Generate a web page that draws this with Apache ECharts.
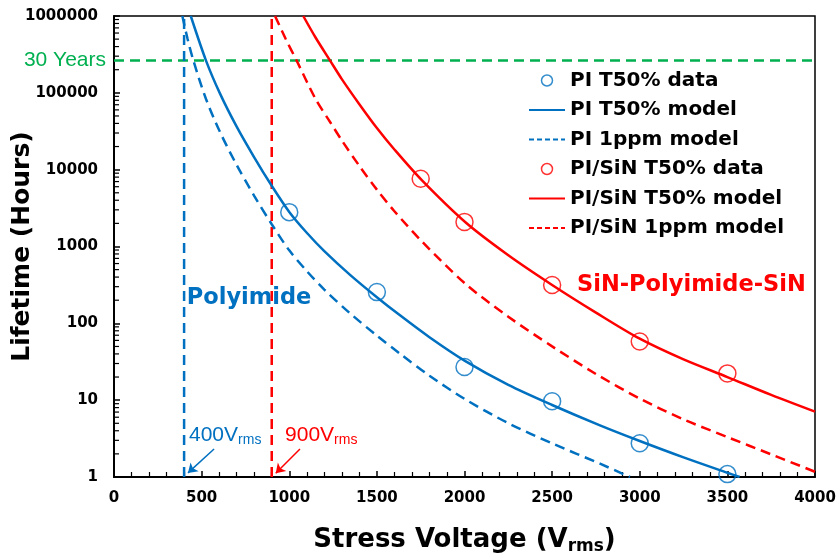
<!DOCTYPE html>
<html><head><meta charset="utf-8">
<script src="https://cdn.jsdelivr.net/npm/echarts@6/dist/echarts.min.js"></script>
<style>html,body{margin:0;padding:0;background:#fff}#c{width:840px;height:554px}</style>
</head><body><div id="c"></div>
<script>
// ---- data ----
const piDataV = [1000, 1500, 2000, 2500, 3000, 3500];
const piDataH = [2800, 255, 27, 9.7, 2.75, 1.09];
const sinDataV = [1750, 2000, 2500, 3000, 3500];
const sinDataH = [7600, 2090, 315, 58, 22.3];

const piT50V = [438, 525, 605, 700, 800, 900, 1000, 1100, 1200, 1347, 1500, 1632, 1800, 2000, 2250, 2500, 2773, 3000, 3250, 3500, 3570];
const piT50H = [1000000, 263000, 97700, 36300, 14500, 6170, 2820, 1510, 871, 428, 219, 127, 65.9, 32.7, 15.8, 8.65, 4.70, 2.94, 1.80, 1.135, 1];

const pi1ppmV = [390, 420, 453, 525, 605, 700, 800, 900, 1000, 1100, 1200, 1347, 1500, 1632, 1800, 2000, 2250, 2500, 2773, 2944];
const pi1ppmH = [1000000, 501000, 263000, 83200, 30900, 11500, 4570, 1950, 891, 479, 275, 135, 69.2, 40.3, 20.8, 10.4, 5.01, 2.74, 1.49, 1];

const sinT50V = [1080, 1150, 1233, 1300, 1400, 1500, 1600, 1759, 2007, 2250, 2500, 2750, 3000, 3250, 3500, 3750, 4000];
const sinT50H = [1000000, 525000, 263000, 151000, 71100, 34800, 18300, 7190, 2050, 769, 316, 138, 63.1, 33.9, 20, 11.7, 7.08];

const sin1ppmV = [919, 980, 1042, 1150, 1233, 1300, 1400, 1500, 1600, 1759, 2007, 2250, 2500, 2750, 3000, 3250, 3500, 3750, 4000];
const sin1ppmH = [1000000, 501000, 263000, 83200, 41700, 24000, 11200, 5500, 2880, 1150, 324, 122, 50.1, 21.9, 10.5, 5.62, 3.31, 1.97, 1.17];

const thirtyYearsH = 262800;
const piLimitV = 400;
const sinLimitV = 900;
const xRange = [0, 4000];
const yRange = [1, 1000000];
const yMinorMantissa = [2, 3, 4, 5, 6, 7, 8, 9];
const yDecades = [1, 10, 100, 1000, 10000, 100000];

// ---- styling ----
const BLUE = '#0070c0', RED = '#ff0000', GREEN = '#00b050';
const BOLD = 'DejaVu Sans';
const zip = (xs, ys) => xs.map((x, i) => [x, ys[i]]);
const minorTicks = [];
yDecades.forEach(d => yMinorMantissa.forEach(m => minorTicks.push([0, d * m])));
const noSym = { color: 'rgba(0,0,0,0)', borderWidth: 0, opacity: 0 };

const chart = echarts.init(document.getElementById('c'));
const option = {
  animation: false,
  backgroundColor: '#fff',
  grid: { left: 114, right: 25, top: 16, bottom: 77, show: true, borderColor: '#000', borderWidth: 1.5, containLabel: false, outerBoundsMode: 'none' },
  legend: {
    orient: 'vertical', left: 528, top: 70.5, padding: 0, itemWidth: 36, itemHeight: 11, itemGap: 9.5,
    textStyle: { fontFamily: BOLD, fontWeight: 'bold', fontSize: 20, lineHeight: 19, color: '#000' },
    data: [
      { name: 'PI T50% data', icon: 'circle', itemStyle: { color: 'rgba(0,0,0,0)', borderColor: BLUE, borderWidth: 1.5 } },
      { name: 'PI T50% model', itemStyle: noSym },
      { name: 'PI 1ppm model', itemStyle: noSym, lineStyle: { type: [5, 3] } },
      { name: 'PI/SiN T50% data', icon: 'circle', itemStyle: { color: 'rgba(0,0,0,0)', borderColor: RED, borderWidth: 1.5 } },
      { name: 'PI/SiN T50% model', itemStyle: noSym },
      { name: 'PI/SiN 1ppm model', itemStyle: noSym, lineStyle: { type: [5, 3] } }
    ]
  },
  xAxis: {
    type: 'value', min: xRange[0], max: xRange[1], interval: 500,
    axisLine: { onZero: false, lineStyle: { color: '#000', width: 2 } },
    axisTick: { inside: true, length: 6, lineStyle: { color: '#000', width: 1.5 } },
    minorTick: { show: true, splitNumber: 5, length: 5, lineStyle: { color: '#000', width: 1.2 } },
    splitLine: { show: false },
    axisLabel: { margin: 14, fontFamily: BOLD, fontWeight: 'bold', fontSize: 15, color: '#000', formatter: v => String(Math.round(v)) },
    name: '{a|Stress Voltage (V}{b|rms}{a|)}', nameLocation: 'middle', nameGap: 48, nameMoveOverlap: false,
    nameTextStyle: {
      rich: {
        a: { fontFamily: BOLD, fontWeight: 'bold', fontSize: 26, lineHeight: 30, color: '#000' },
        b: { fontFamily: BOLD, fontWeight: 'bold', fontSize: 17, lineHeight: 12, verticalAlign: 'bottom', color: '#000' }
      }
    }
  },
  yAxis: {
    type: 'log', logBase: 10, min: yRange[0], max: yRange[1],
    axisLine: { onZero: false, lineStyle: { color: '#000', width: 2 } },
    axisTick: { inside: true, length: 6, lineStyle: { color: '#000', width: 1.5 } },
    splitLine: { show: false },
    axisLabel: { margin: 16, fontFamily: BOLD, fontWeight: 'bold', fontSize: 15, color: '#000', formatter: v => String(Math.round(v)) },
    name: 'Lifetime (Hours)', nameLocation: 'middle', nameGap: 79, nameMoveOverlap: false,
    nameTextStyle: { fontFamily: BOLD, fontWeight: 'bold', fontSize: 25, color: '#000' }
  },
  series: [
    { name: 'minorY', type: 'custom', silent: true, clip: false, data: minorTicks, encode: { x: 0, y: 1 },
      renderItem: (params, api) => { const p = api.coord([api.value(0), api.value(1)]);
        return { type: 'line', shape: { x1: p[0], y1: p[1], x2: p[0] + 5, y2: p[1] }, style: { stroke: '#000', lineWidth: 1.2 } }; } },
    { name: '30yr', type: 'line', symbol: 'none', silent: true, data: [[xRange[0], thirtyYearsH], [xRange[1], thirtyYearsH]],
      lineStyle: { color: GREEN, width: 2.5, type: [10, 6] } },
    { name: 'piLimit', type: 'line', symbol: 'none', silent: true, data: [[piLimitV, yRange[0]], [piLimitV, yRange[1]]],
      lineStyle: { color: BLUE, width: 2.5, type: [10, 6] },
      markLine: { silent: true, symbol: ['none', 'arrow'], symbolSize: 9, label: { show: false },
        lineStyle: { color: BLUE, width: 1.5, type: 'solid' }, data: [[{ coord: [571, 2.31] }, { coord: [422, 1.13] }]] } },
    { name: 'sinLimit', type: 'line', symbol: 'none', silent: true, data: [[sinLimitV, yRange[0]], [sinLimitV, yRange[1]]],
      lineStyle: { color: RED, width: 2.5, type: [10, 6] },
      markLine: { silent: true, symbol: ['none', 'arrow'], symbolSize: 9, label: { show: false },
        lineStyle: { color: RED, width: 1.5, type: 'solid' }, data: [[{ coord: [1061, 2.31] }, { coord: [923, 1.12] }]] } },
    { name: 'PI T50% model', type: 'line', symbol: 'none', smooth: 0.3, data: zip(piT50V, piT50H),
      lineStyle: { color: BLUE, width: 2.5 }, itemStyle: { color: BLUE } },
    { name: 'PI 1ppm model', type: 'line', symbol: 'none', smooth: 0.3, data: zip(pi1ppmV, pi1ppmH),
      lineStyle: { color: BLUE, width: 2.5, type: [10, 6] }, itemStyle: { color: BLUE } },
    { name: 'PI/SiN T50% model', type: 'line', symbol: 'none', smooth: 0.3, data: zip(sinT50V, sinT50H),
      lineStyle: { color: RED, width: 2.5 }, itemStyle: { color: RED } },
    { name: 'PI/SiN 1ppm model', type: 'line', symbol: 'none', smooth: 0.3, data: zip(sin1ppmV, sin1ppmH),
      lineStyle: { color: RED, width: 2.5, type: [10, 6] }, itemStyle: { color: RED } },
    { name: 'PI T50% data', type: 'scatter', symbol: 'circle', symbolSize: 17, data: zip(piDataV, piDataH),
      itemStyle: { color: 'rgba(0,0,0,0)', borderColor: BLUE, borderWidth: 1.5 } },
    { name: 'PI/SiN T50% data', type: 'scatter', symbol: 'circle', symbolSize: 17, data: zip(sinDataV, sinDataH),
      itemStyle: { color: 'rgba(0,0,0,0)', borderColor: RED, borderWidth: 1.5 } }
  ]
};
chart.setOption(option);

// ---- text annotations anchored in data coordinates ----
const at = (v, h) => chart.convertToPixel({ gridIndex: 0 }, [v, h]);
const p30 = at(0, thirtyYearsH);
const pPoly = at(415, 215);
const pSin = at(2642, 315);
const p400 = at(428, 3.5);
const p900 = at(976, 3.5);
const REG = 'Liberation Sans';
const subRich = (color) => ({
  a: { fontFamily: REG, fontSize: 21, lineHeight: 24, fill: color, color: color },
  b: { fontFamily: REG, fontSize: 14, lineHeight: 12, verticalAlign: 'bottom', fill: color, color: color }
});
chart.setOption({
  graphic: [
    { type: 'text', x: p30[0] - 8, y: p30[1], style: { text: '30 Years', fontFamily: REG, fontSize: 21, fill: GREEN, align: 'right', verticalAlign: 'middle' } },
    { type: 'text', x: pPoly[0], y: pPoly[1], style: { text: 'Polyimide', fontFamily: BOLD, fontWeight: 'bold', fontSize: 22.5, fill: BLUE, align: 'left', verticalAlign: 'middle' } },
    { type: 'text', x: pSin[0], y: pSin[1], style: { text: 'SiN-Polyimide-SiN', fontFamily: BOLD, fontWeight: 'bold', fontSize: 22.5, fill: RED, align: 'left', verticalAlign: 'middle' } },
    { type: 'text', x: p400[0], y: p400[1] - 12, style: { text: '{a|400V}{b|rms}', rich: subRich(BLUE), align: 'left', verticalAlign: 'top' } },
    { type: 'text', x: p900[0], y: p900[1] - 12, style: { text: '{a|900V}{b|rms}', rich: subRich(RED), align: 'left', verticalAlign: 'top' } }
  ]
});
</script>
</body></html>
